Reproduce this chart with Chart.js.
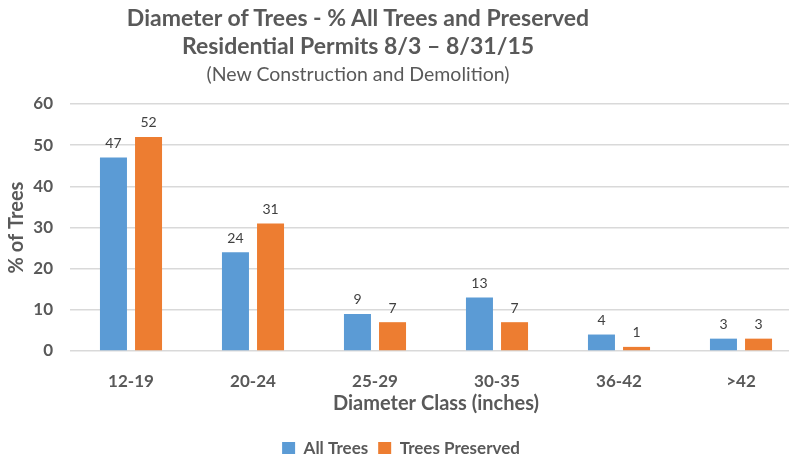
<!DOCTYPE html>
<html lang="en">
<head>
    <meta charset="UTF-8">
    <title>Diameter of Trees</title>
    <style>
        body {
            margin: 0;
            width: 789px;
            height: 454px;
            overflow: hidden;
            background: white;
            font-family: Lato, "Open Sans", sans-serif;
            color: #595959;
        }
        /* the plot runs a little past the right edge, as in the picture */
        #wrap {
            position: relative;
            width: 802px;
            height: 467px;
        }
        .ttl {
            position: absolute;
            left: 0;
            width: 716px;
            text-align: center;
            white-space: nowrap;
        }
        #t1 { top: 3px; font-size: 23px; font-weight: bold; }
        #t2 { top: 31px; font-size: 23px; font-weight: bold; }
        #t3 { top: 62px; font-size: 19.5px; }
    </style>
</head>
<body>
    <div id="wrap">
        <canvas id="chart"></canvas>
        <div class="ttl" id="t1">Diameter of Trees - % All Trees and Preserved</div>
        <div class="ttl" id="t2">Residential Permits 8/3 – 8/31/15</div>
        <div class="ttl" id="t3">(New Construction and Demolition)</div>
    </div>

    <script src="https://cdn.jsdelivr.net/npm/chart.js"></script>
    <script>
        const classes = ['12-19', '20-24', '25-29', '30-35', '36-42', '>42'];
        const allTrees = [47, 24, 9, 13, 4, 3];
        const preserved = [52, 31, 7, 7, 1, 3];
        const yTicks = [0, 10, 20, 30, 40, 50, 60];

        const textColor = '#595959';
        const fam = 'Lato, "Open Sans", sans-serif';

        // value labels above each bar
        const barLabels = {
            id: 'barLabels',
            afterDatasetsDraw(chart) {
                const ctx = chart.ctx;
                ctx.save();
                ctx.font = '14px ' + fam;
                ctx.fillStyle = '#404040';
                ctx.textAlign = 'center';
                ctx.textBaseline = 'bottom';
                chart.data.datasets.forEach((ds, i) => {
                    chart.getDatasetMeta(i).data.forEach((bar, j) => {
                        ctx.fillText(ds.data[j], bar.x, bar.y - 7);
                    });
                });
                ctx.restore();
            }
        };

        new Chart(document.getElementById('chart'), {
            type: 'bar',
            data: {
                labels: classes,
                datasets: [
                    { label: 'All Trees', data: allTrees, backgroundColor: '#5B9BD5' },
                    { label: 'Trees Preserved', data: preserved, backgroundColor: '#ED7D31' }
                ]
            },
            options: {
                responsive: true,
                maintainAspectRatio: false,
                animation: false,
                categoryPercentage: 0.575,
                barPercentage: 0.77,
                layout: { padding: { top: 104, left: 0, right: 0, bottom: 0 } },
                plugins: {
                    legend: {
                        position: 'bottom',
                        labels: {
                            boxWidth: 13,
                            boxHeight: 13,
                            padding: 10,
                            color: textColor,
                            font: { family: fam, size: 17, weight: 'bold' }
                        }
                    },
                    tooltip: { enabled: false }
                },
                scales: {
                    x: {
                        grid: { display: false },
                        border: { display: false },
                        ticks: {
                            color: textColor,
                            padding: 12,
                            font: { family: fam, size: 17, weight: 'bold' }
                        },
                        title: {
                            display: true,
                            text: 'Diameter Class (inches)',
                            color: textColor,
                            padding: { top: 0, bottom: 14 },
                            font: { family: fam, size: 20, weight: 'bold' }
                        },
                        afterFit(scale) { scale.height = 79; }
                    },
                    y: {
                        min: yTicks[0],
                        max: yTicks[yTicks.length - 1],
                        afterBuildTicks(scale) { scale.ticks = yTicks.map(v => ({ value: v })); },
                        grid: { color: '#d9d9d9', lineWidth: 1.5, drawTicks: false },
                        border: { display: false },
                        ticks: {
                            color: textColor,
                            padding: 17,
                            font: { family: fam, size: 17, weight: 'bold' }
                        },
                        title: {
                            display: true,
                            text: '% of Trees',
                            color: textColor,
                            padding: { top: 5, bottom: 0 },
                            font: { family: fam, size: 20, weight: 'bold' }
                        },
                        afterFit(scale) { scale.width = 70; }
                    }
                }
            },
            plugins: [barLabels]
        });
    </script>
</body>
</html>
